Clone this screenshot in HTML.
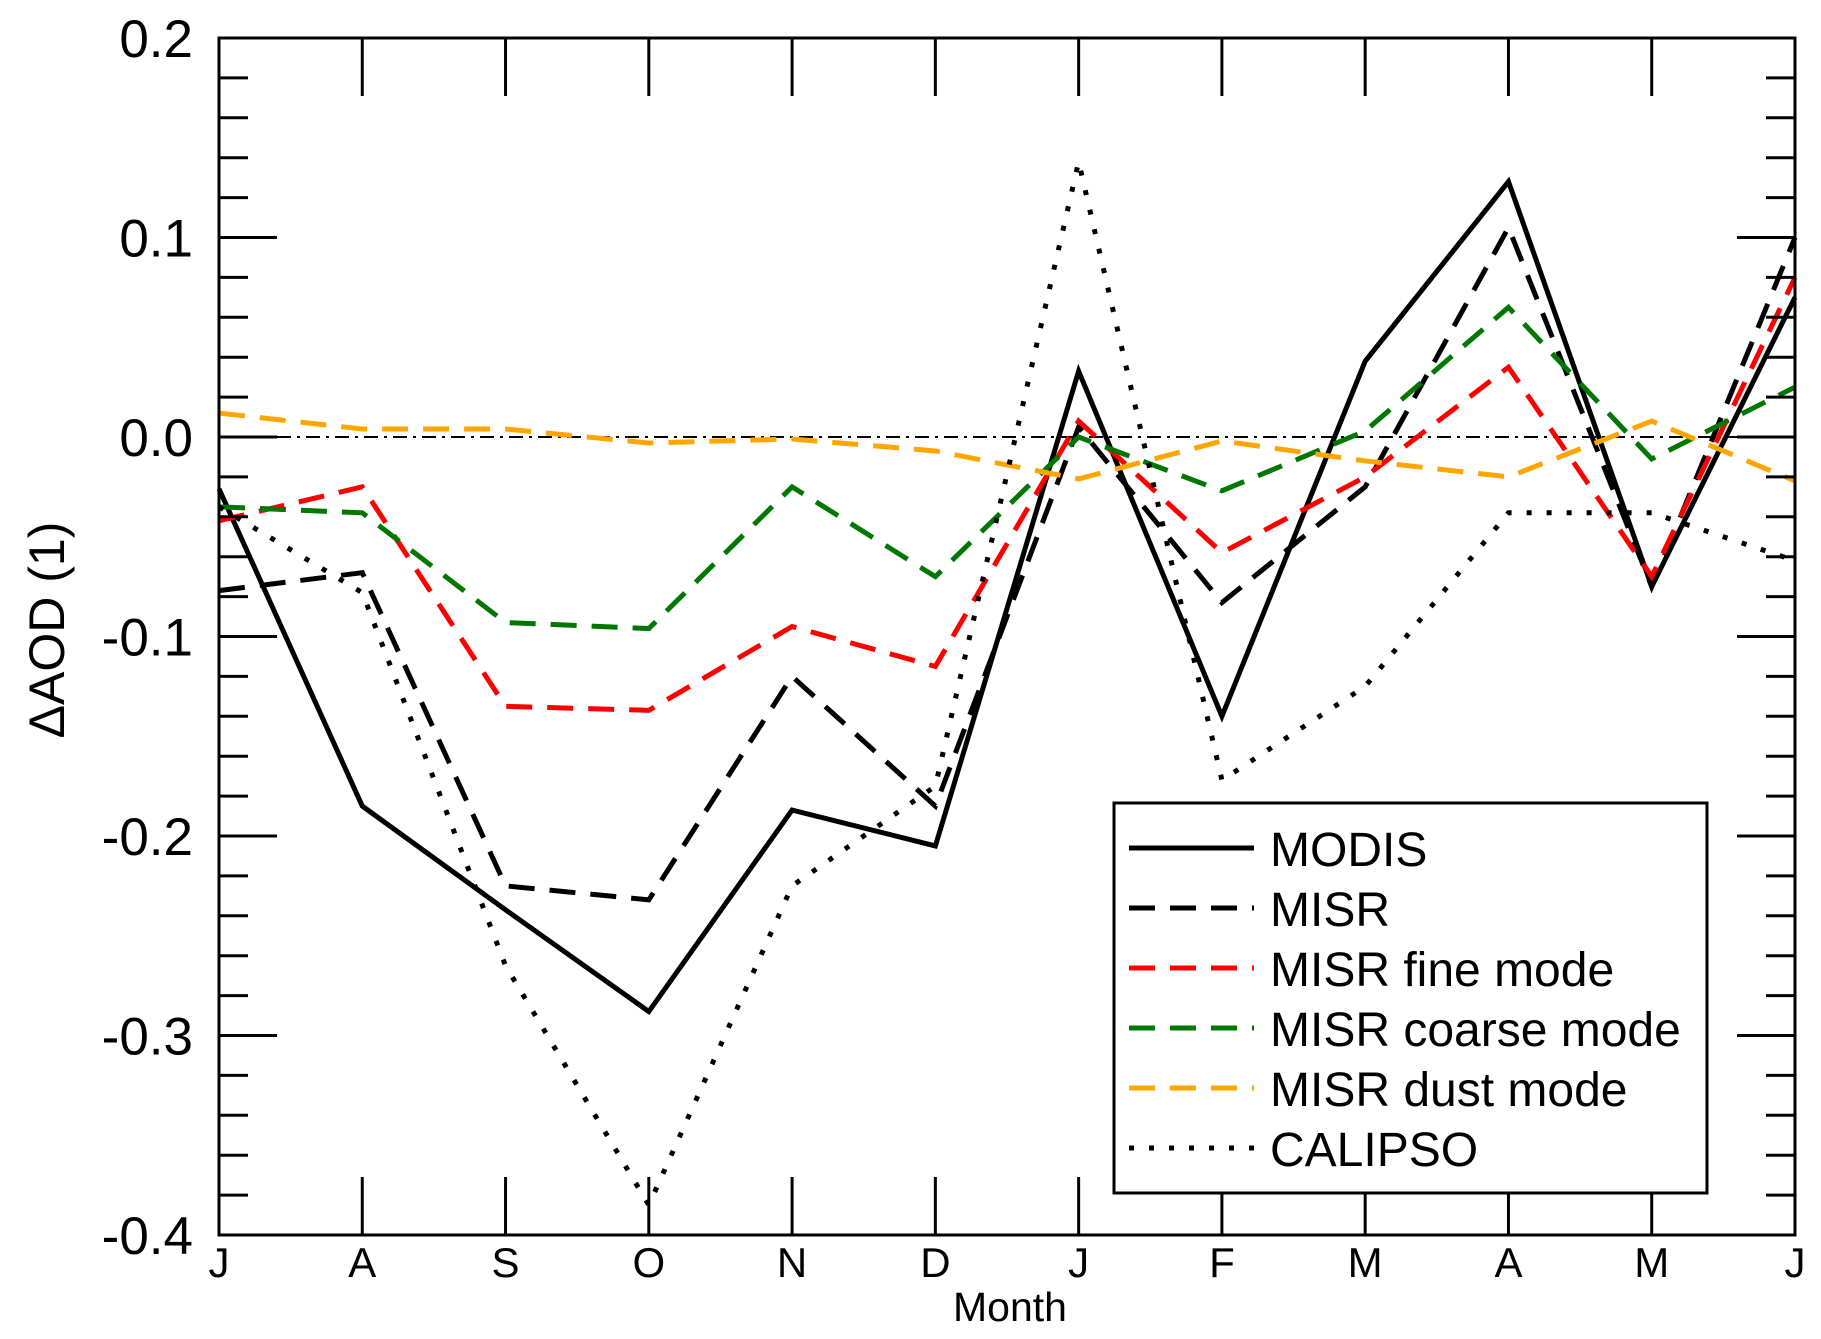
<!DOCTYPE html>
<html><head><meta charset="utf-8"><style>
html,body{margin:0;padding:0;background:#fff;}
svg{display:block;font-family:"Liberation Sans",Arial,sans-serif;}
</style></head><body>
<svg id="chart" width="1821" height="1339" viewBox="0 0 1821 1339" xmlns="http://www.w3.org/2000/svg">
<g id="plot"></g>
</svg>
<script>
const months = ["J","A","S","O","N","D","J","F","M","A","M","J"];
const yTicks = [0.2,0.1,0.0,-0.1,-0.2,-0.3,-0.4];
const yTickLabels = ["0.2","0.1","0.0","-0.1","-0.2","-0.3","-0.4"];
const modis   = [-0.026,-0.185,-0.237,-0.288,-0.187,-0.205,0.033,-0.140,0.038,0.128,-0.075,0.070];
const misr    = [-0.077,-0.068,-0.225,-0.232,-0.120,-0.185,0.005,-0.083,-0.025,0.105,-0.075,0.100];
const fine    = [-0.042,-0.025,-0.135,-0.137,-0.095,-0.115,0.008,-0.058,-0.020,0.035,-0.070,0.080];
const coarse  = [-0.035,-0.038,-0.093,-0.096,-0.025,-0.070,0.000,-0.027,0.003,0.065,-0.011,0.025];
const dust    = [0.012,0.004,0.004,-0.003,-0.001,-0.007,-0.021,-0.002,-0.012,-0.020,0.008,-0.022];
const calipso = [-0.035,-0.078,-0.265,-0.385,-0.225,-0.175,0.138,-0.172,-0.125,-0.038,-0.038,-0.062];
const seriesNames = ["MODIS","MISR","MISR fine mode","MISR coarse mode","MISR dust mode","CALIPSO"];

const L=219,R=1795,T=38,B=1235;
const yMin=-0.4,yMax=0.2;
const x=i=>L+(R-L)*i/(months.length-1);
const y=v=>B-(B-T)*(v-yMin)/(yMax-yMin);
const NS="http://www.w3.org/2000/svg";
const g=document.getElementById('plot');
function mk(tag,attrs,parent){const e=document.createElementNS(NS,tag);for(const k in attrs)e.setAttribute(k,attrs[k]);(parent||g).appendChild(e);return e;}

let zl=mk('line',{x1:L,x2:R,y1:y(0),y2:y(0),stroke:'#000','stroke-width':2,'stroke-dasharray':'14,6,3,6'});



const styles=[
 {d:modis,c:'#000',w:5,dash:''},
 {d:misr,c:'#000',w:5,dash:'26,15'},
 {d:fine,c:'#ff0000',w:5,dash:'26,15'},
 {d:coarse,c:'#007700',w:5,dash:'26,15'},
 {d:dust,c:'#ffa500',w:5,dash:'26,15'},
 {d:calipso,c:'#000',w:5,dash:'5,15'}
];
const keys=['modis','misr','misr-fine','misr-coarse','misr-dust','calipso'];
styles.forEach((s,k)=>{
  const pts=s.d.map((v,i)=>x(i)+','+y(v)).join(' ');
  const p=mk('polyline',{points:pts,fill:'none',stroke:s.c,'stroke-width':s.w,'stroke-dasharray':s.dash,'stroke-linejoin':'miter'});
  
  
});

let fr=mk('rect',{x:L,y:T,width:R-L,height:B-T,fill:'none',stroke:'#000','stroke-width':3});



for(let k=0;k<=30;k++){
  const v=yMin+k*0.02; const yy=y(v); const major=(k%5===0); const len=major?58:29;
  mk('line',{x1:L,x2:L+len,y1:yy,y2:yy,stroke:'#000','stroke-width':3});
  mk('line',{x1:R-len,x2:R,y1:yy,y2:yy,stroke:'#000','stroke-width':3});
}
yTicks.forEach((v,i)=>{
  const t=mk('text',{x:193,y:y(v)+19,'text-anchor':'end','font-size':53});
  t.textContent=yTickLabels[i];
  
  
});
months.forEach((m,i)=>{
  mk('line',{x1:x(i),x2:x(i),y1:B,y2:B-58,stroke:'#000','stroke-width':3});
  mk('line',{x1:x(i),x2:x(i),y1:T,y2:T+58,stroke:'#000','stroke-width':3});
  const t=mk('text',{x:x(i),y:1277,'text-anchor':'middle','font-size':42});
  t.textContent=m;
  
  
});
let xt=mk('text',{x:1010,y:1321,'text-anchor':'middle','font-size':41});
xt.textContent='Month';


let yt=mk('text',{x:0,y:0,'text-anchor':'middle','font-size':50,transform:'translate(64,630) rotate(-90)'});
yt.textContent='ΔAOD (1)';



const lg=mk('g',{});


mk('rect',{x:1114,y:803,width:593,height:390,fill:'#fff',stroke:'#000','stroke-width':3},lg);
seriesNames.forEach((n,k)=>{
  const yy=848+k*60; const s=styles[k];
  const ln=mk('line',{x1:1129,x2:1254,y1:yy,y2:yy,stroke:s.c,'stroke-width':5,'stroke-dasharray':s.dash},lg);
  
  
  const t=mk('text',{x:1270,y:yy+18,'font-size':48},lg);
  t.textContent=n;
  
  
});
</script>
</body></html>
